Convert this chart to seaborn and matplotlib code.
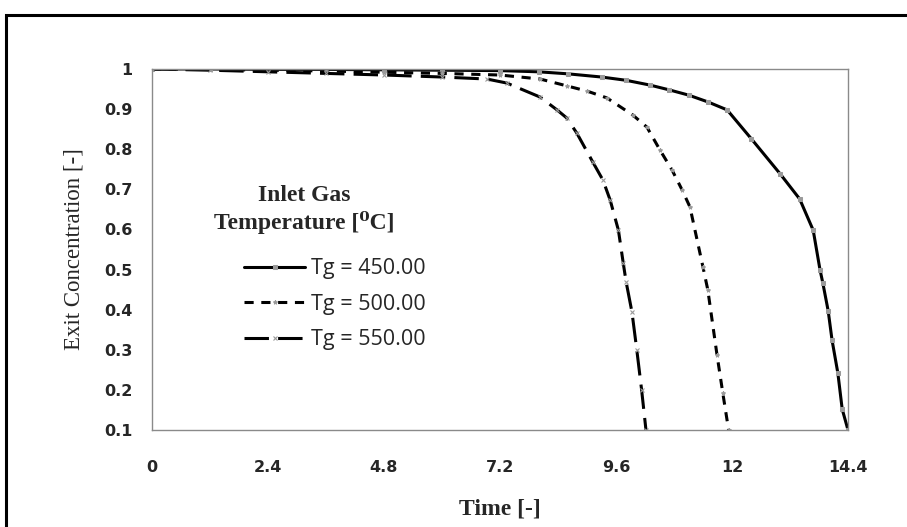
import pandas as pd
import matplotlib.pyplot as plt
import seaborn as sns
from matplotlib.patches import Rectangle

# values
t_450 = [0, 1.2, 2.4, 3.6, 4.8, 6.0, 7.2, 8.0, 8.6, 9.3, 9.8, 10.3, 10.7, 11.1, 11.5, 11.9,
         12.4, 13.0, 13.4, 13.68, 13.82, 13.88, 13.99, 14.07, 14.19, 14.28, 14.4]
c_450 = [1.0, 1.0, 0.999, 0.999, 0.998, 0.997, 0.996, 0.993, 0.988, 0.98, 0.972, 0.96, 0.948, 0.935, 0.918, 0.898,
         0.826, 0.738, 0.676, 0.598, 0.5, 0.466, 0.397, 0.324, 0.242, 0.152, 0.1]

t_500 = [0, 1.2, 2.4, 3.6, 4.8, 6.0, 7.2, 8.03, 8.58, 9.0, 9.41, 9.95, 10.24, 10.51, 10.76, 10.97,
         11.13, 11.4, 11.5, 11.69, 11.81, 11.93]
c_500 = [1.0, 0.999, 0.997, 0.995, 0.992, 0.989, 0.985, 0.975, 0.958, 0.945, 0.928, 0.885, 0.855, 0.798, 0.748, 0.698,
         0.656, 0.506, 0.449, 0.287, 0.192, 0.1]

t_550 = [0, 1.2, 2.4, 3.6, 4.8, 6.0, 6.93, 7.34, 8.03, 8.38, 8.58, 8.79, 9.12, 9.33, 9.48, 9.65,
         9.75, 9.81, 9.93, 10.03, 10.13, 10.22]
c_550 = [1.0, 0.997, 0.993, 0.989, 0.985, 0.98, 0.975, 0.965, 0.93, 0.898, 0.878, 0.84, 0.768, 0.723, 0.673, 0.598,
         0.516, 0.469, 0.394, 0.3, 0.2, 0.1]

labels = ['Tg = 450.00', 'Tg = 500.00', 'Tg = 550.00']
x_ticks = [0, 2.4, 4.8, 7.2, 9.6, 12, 14.4]
x_tick_labels = ['0', '2.4', '4.8', '7.2', '9.6', '12', '14.4']
y_ticks = [0.1, 0.2, 0.3, 0.4, 0.5, 0.6, 0.7, 0.8, 0.9, 1.0]
y_tick_labels = ['0.1', '0.2', '0.3', '0.4', '0.5', '0.6', '0.7', '0.8', '0.9', '1']

sns.set_style('white')

fig = plt.figure(figsize=(9.07, 5.27), dpi=100)
ax = fig.add_axes([152 / 907, 1 - 430 / 527, 696 / 907, 361 / 527])

# outer frame of the pasted chart
fig.patches.append(Rectangle((6 / 907, -0.05), 1.2, 1 - 15 / 527 + 0.05, transform=fig.transFigure,
                             fill=False, edgecolor='black', linewidth=2.2, clip_on=False))

mk = dict(markerfacecolor='#9a9a9a', markeredgecolor='#9a9a9a')
sns.lineplot(x=t_450, y=c_450, ax=ax, color='black', linewidth=2.2, sort=False, estimator=None,
             marker='s', markersize=2.5, linestyle='-', label=labels[0], **mk)
sns.lineplot(x=t_500, y=c_500, ax=ax, color='black', linewidth=2.2, sort=False, estimator=None,
             marker='*', markersize=3, linestyle=(0, (3, 2.5)), label=labels[1], **mk)
sns.lineplot(x=t_550, y=c_550, ax=ax, color='black', linewidth=2.2, sort=False, estimator=None,
             marker='x', markersize=3, markeredgewidth=0.8, linestyle=(0, (8, 3)), label=labels[2], **mk)

ax.set_xlim(0, 14.4)
ax.set_ylim(0.1, 1.0)
ax.set_xticks(x_ticks)
ax.set_xticklabels(x_tick_labels)
ax.set_yticks(y_ticks)
ax.set_yticklabels(y_tick_labels)
ax.tick_params(axis='y', length=0, pad=14)
ax.tick_params(axis='x', length=0, pad=21.5)
for lab in ax.get_xticklabels() + ax.get_yticklabels():
    lab.set_fontfamily('DejaVu Sans')
    lab.set_fontweight('bold')
    lab.set_fontsize(11.5)
for sp in ax.spines.values():
    sp.set_color('#8a8a8a')
    sp.set_linewidth(1.0)

ax.set_xlabel('Time [-]', fontfamily='Liberation Serif', fontweight='bold', fontsize=17, labelpad=17)
ax.set_ylabel('Exit Concentration [-]', fontfamily='Liberation Serif', fontsize=16.5, labelpad=14.5)

leg = ax.legend(loc='upper left', bbox_to_anchor=(0.105, 0.53), frameon=False, handlelength=2.8,
                handletextpad=0.3, labelspacing=0.68, prop={'family': 'Open Sans', 'size': 15.5})

fig.text(304 / 907, 1 - 196 / 527, 'Inlet Gas', ha='center', va='center',
         fontfamily=['Liberation Serif', 'DejaVu Serif'], fontweight='bold', fontsize=17)
fig.text(304 / 907, 1 - 223 / 527, 'Temperature [\u2070C]', ha='center', va='center',
         fontfamily=['Liberation Serif', 'DejaVu Serif'], fontweight='bold', fontsize=17)

fig.savefig('out.png', dpi=100)
